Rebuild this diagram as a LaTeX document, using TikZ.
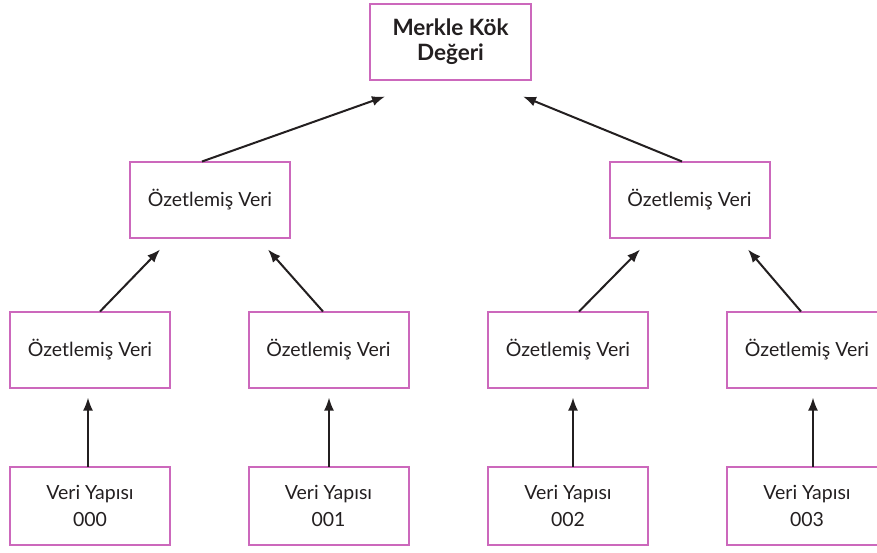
\documentclass[tikz,border=0pt]{standalone}
\usepackage{fontspec}
\setmainfont{Lato}
\usetikzlibrary{arrows.meta}
\definecolor{boxline}{RGB}{204,104,188}
\definecolor{ink}{RGB}{35,31,32}
\begin{document}
\begin{tikzpicture}[x=1pt,y=-1pt,
  hashbox/.style={draw=boxline,line width=2pt,minimum width=160pt,minimum height=76pt,
    inner sep=0pt,outer sep=0pt,align=center,text=ink,font=\fontsize{19.5}{27}\selectfont},
  rootbox/.style={hashbox,minimum width=161pt,font=\fontsize{22.5}{25}\selectfont\bfseries},
  databox/.style={hashbox,minimum height=78pt},
  arr/.style={draw=ink,line width=2pt,-{Latex[length=13pt,width=10pt]}}]
\useasboundingbox (0,0) rectangle (877,552);
\clip (0,0) rectangle (877,552);
\fill[white] (0,0) rectangle (877,552);

% root of the tree
\node[rootbox] (root) at (450.5,41.5) {Merkle Kök\\Değeri};

% second level hashes
\node[hashbox] (h01) at (210,199.5) {Özetlemiş Veri};
\node[hashbox] (h23) at (689.5,199.5) {Özetlemiş Veri};

% leaf hashes
\node[hashbox] (h0) at (90,349.5) {Özetlemiş Veri};
\node[hashbox] (h1) at (328.5,349.5) {Özetlemiş Veri};
\node[hashbox] (h2) at (568,349.5) {Özetlemiş Veri};
\node[hashbox] (h3) at (807,349.5) {Özetlemiş Veri};

% data blocks
\node[databox] (d0) at (90,505.5) {Veri Yapısı\\000};
\node[databox] (d1) at (328.5,505.5) {Veri Yapısı\\001};
\node[databox] (d2) at (568,505.5) {Veri Yapısı\\002};
\node[databox] (d3) at (807,505.5) {Veri Yapısı\\003};

% second level to root
\draw[arr] ([xshift=-8pt]h01.north) -- ([xshift=-65.5pt,yshift=-17pt]root.south);
\draw[arr] ([xshift=-7.5pt]h23.north) -- ([xshift=72.5pt,yshift=-17pt]root.south);

% leaf hashes to second level
\draw[arr] ([xshift=10pt]h0.north) -- ([xshift=-50pt,yshift=-12pt]h01.south);
\draw[arr] ([xshift=-5.5pt]h1.north) -- ([xshift=58pt,yshift=-12pt]h01.south);
\draw[arr] ([xshift=11pt]h2.north) -- ([xshift=-49.5pt,yshift=-12pt]h23.south);
\draw[arr] ([xshift=-6pt]h3.north) -- ([xshift=58.5pt,yshift=-12pt]h23.south);

% data blocks to leaf hashes
\draw[arr] ([xshift=-2pt]d0.north) -- ([xshift=-2pt,yshift=-10pt]h0.south);
\draw[arr] ([xshift=0.5pt]d1.north) -- ([xshift=0.5pt,yshift=-10pt]h1.south);
\draw[arr] ([xshift=5pt]d2.north) -- ([xshift=5pt,yshift=-10pt]h2.south);
\draw[arr] ([xshift=6pt]d3.north) -- ([xshift=6pt,yshift=-10pt]h3.south);
\end{tikzpicture}
\end{document}
